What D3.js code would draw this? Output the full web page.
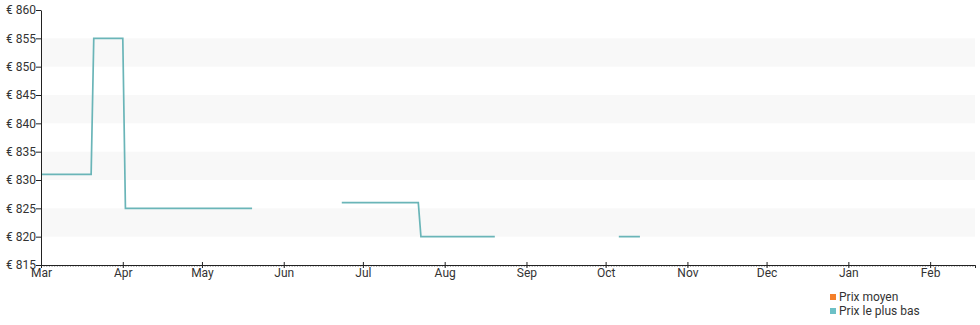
<!DOCTYPE html>
<html>
<head>
<meta charset="utf-8">
<script src="https://cdn.jsdelivr.net/npm/d3@7"></script>
<style>
  body { margin: 0; background: #fff; }
  svg, svg text { font-family: Roboto, "Noto Sans", sans-serif; }
</style>
</head>
<body>
<div id="body"></div>
<script>
// Load and transform data
// each segment is one run of observed prices (gaps between segments = no data)
const segStarts = ['2023-03-01', '2023-03-21', '2023-04-02', '2023-06-23', '2023-07-23', '2023-10-06']
const segEnds   = ['2023-03-20', '2023-04-01', '2023-05-20', '2023-07-22', '2023-08-20', '2023-10-14']
const segPrices = [831, 855, 825, 826, 820, 820]
// segments that join to the previous one (price change without gap)
const segJoined = [false, true, true, false, true, false]

const yTicks = [815, 820, 825, 830, 835, 840, 845, 850, 855, 860]
const bands = [[820, 825], [830, 835], [840, 845], [850, 855]]
const legendLabels = ['Prix moyen', 'Prix le plus bas']
const legendColors = ['#f47f2a', '#6cc0c6']

const parse = d3.timeParse('%Y-%m-%d')

let points = []
segStarts.forEach((s, i) => {
    if (i > 0 && !segJoined[i]) points.push(null)
    points.push({'date': parse(s), 'price': segPrices[i]})
    points.push({'date': parse(segEnds[i]), 'price': segPrices[i]})
})

// Compute layout
const width = 980, height = 325
const margin = {top: 10, left: 41, right: 5, bottom: 60}

let xScale = d3.scaleTime([parse('2023-03-01'), parse('2024-02-18')], [margin.left, width - margin.right])
let yScale = d3.scaleLinear([815, 860], [height - margin.bottom, margin.top])

let svg = d3.select('#body').append('svg').attr('width', width).attr('height', height)

// Draw visualization
svg.selectAll('rect.band').data(bands).join('rect')
    .attr('class', 'band')
    .attr('x', margin.left + 1)
    .attr('width', width - margin.right - margin.left - 1)
    .attr('y', (d) => {return yScale(d[1])})
    .attr('height', (d) => {return yScale(d[0]) - yScale(d[1])})
    .attr('fill', '#f8f8f8')

let line = d3.line()
    .defined((d) => {return d !== null})
    .x((d) => {return xScale(d.date)})
    .y((d) => {return yScale(d.price)})

svg.append('path')
    .datum(points)
    .attr('d', line)
    .attr('fill', 'none')
    .attr('stroke', '#6ab5b8')
    .attr('stroke-width', 1.7)

// minor daily ticks
let xMinor = d3.axisBottom(xScale).ticks(d3.timeDay.every(1)).tickSize(2).tickFormat('')
svg.append('g')
    .attr('transform', `translate(0,${height - margin.bottom})`)
    .call(xMinor)
    .call((g) => {
        g.select('.domain').remove()
        g.selectAll('line').attr('stroke', '#aaa')
    })

let xAxis = d3.axisBottom(xScale).ticks(d3.timeMonth.every(1)).tickFormat(d3.timeFormat('%b')).tickSizeOuter(0).tickSize(3)
svg.append('g')
    .attr('transform', `translate(0,${height - margin.bottom})`)
    .call(xAxis)
    .call((g) => {
        g.attr('font-family', null)
        g.select('.domain').attr('stroke', '#222')
        g.selectAll('.tick line').attr('y1', -3).attr('stroke', '#222')
        g.selectAll('text').attr('font-size', 12).attr('fill', '#333').attr('dy', '0.71em').attr('y', 3)
    })

let yAxis = d3.axisLeft(yScale).tickValues(yTicks).tickFormat((d) => {return '€ ' + d}).tickSize(5).tickSizeOuter(0)
svg.append('g')
    .attr('transform', `translate(${margin.left},0)`)
    .call(yAxis)
    .call((g) => {
        g.attr('font-family', null)
        g.select('.domain').attr('stroke', '#222')
        g.selectAll('.tick line').attr('stroke', '#222')
        g.selectAll('text').attr('font-size', 12).attr('fill', '#333').attr('x', -5)
    })

let legend = svg.selectAll('g.legend').data(legendLabels).join('g')
    .attr('class', 'legend')
    .attr('transform', (d, i) => {return `translate(830,${297 + i * 14})`})
legend.append('rect')
    .attr('x', 0).attr('y', -3).attr('width', 6).attr('height', 6)
    .attr('fill', (d, i) => {return legendColors[i]})
legend.append('text')
    .attr('x', 9).attr('dy', '0.35em')
    .attr('font-size', 12).attr('fill', '#333')
    .text((d) => {return d})
</script>
</body>
</html>
